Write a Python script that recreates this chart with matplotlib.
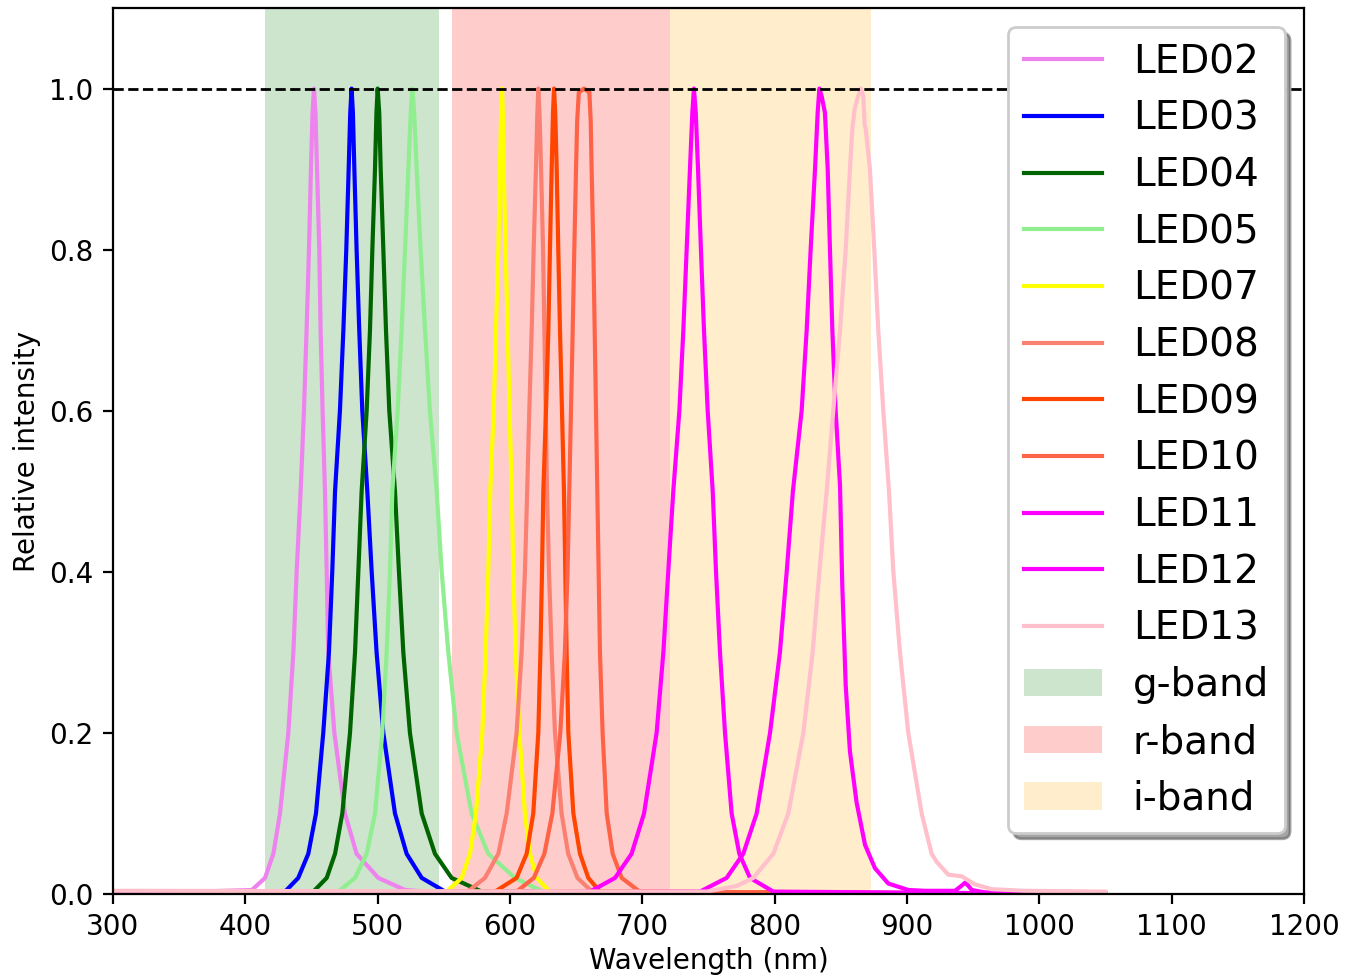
import matplotlib
matplotlib.use("Agg")
import matplotlib.pyplot as plt

# ---------------- data ----------------
LED02_wl = [300, 405, 414.9, 421.2, 426.2, 432.5, 436.3, 438.8, 441.8, 444.3, 446.3, 448.1, 449.6, 450.8, 451.9,
            453.0, 454.2, 455.9, 456.9, 458.4, 460.2, 461.5, 462.7, 467.3, 475.3, 484.1, 500.5, 520.7, 560, 1050]
LED02_int = [0, 0.005, 0.02, 0.05, 0.1, 0.2, 0.3, 0.4, 0.5, 0.6, 0.7, 0.8, 0.9, 0.97, 1.0,
             0.97, 0.9, 0.8, 0.7, 0.6, 0.5, 0.4, 0.3, 0.2, 0.1, 0.05, 0.02, 0.005, 0, 0]

LED03_wl = [300, 430, 440.0, 447.6, 453.4, 458.9, 463.2, 465.7, 467.8, 471.5, 474.1, 476.3, 478.1, 479.3, 480.3,
            481.3, 482.4, 484.1, 486.1, 488.4, 492.2, 495.5, 499.2, 504.3, 513.1, 521.9, 533.3, 551, 1050]
LED04_wl = [300, 451.4, 461.5, 467.8, 473.3, 479.1, 482.9, 485.4, 487.9, 491.7, 494.2, 496.0, 498.0, 499.1, 500.0,
            501.2, 502.3, 504.3, 506.3, 508.8, 513.1, 516.1, 519.4, 524.4, 533.3, 543.3, 555.9, 578.6, 1050]
LED05_wl = [300, 470.3, 482.9, 491.7, 498.0, 503.5, 506.8, 509.3, 511.1, 515.1, 518.1, 520.7, 523.2, 525.0, 526.2,
            527.6, 529.5, 532.5, 535.8, 539.5, 544.6, 548.4, 553.4, 559.7, 571.0, 583.6, 603.8, 625, 1050]
LED07_wl = [300, 552.1, 563.5, 569.8, 574.3, 579.1, 581.6, 583.6, 585.1, 587.7, 589.4, 591.2, 592.4, 593.3, 594.0,
            594.6, 595.2, 596.7, 598.2, 599.7, 601.3, 602.5, 604.3, 607.1, 611.3, 615.1, 620.2, 630, 1050]
LED08_wl = [300, 568, 581.1, 591.2, 597.5, 605.0, 608.8, 611.3, 613.0, 614.6, 616.4, 617.9, 619.6, 620.7, 621.4,
            622.3, 623.5, 625.0, 626.0, 627.0, 628.0, 629.5, 631.5, 634.0, 639.0, 644.0, 651.0, 662, 1050]
LED09_wl = [300, 588.7, 605.0, 612.6, 617.6, 621.4, 623.0, 624.2, 625.2, 627.2, 629.0, 630.2, 631.5, 632.5, 633.3,
            634.2, 635.3, 636.5, 637.8, 639.3, 640.8, 641.8, 642.8, 644.1, 647.9, 652.9, 659.2, 668, 1050]
LED11_wl = [300, 660.5, 679.4, 691.9, 701.3, 710.8, 715.9, 719.6, 723.4, 728.0, 731.0, 733.5, 736.0, 737.8, 739.0,
            740.4, 742.1, 744.3, 746.6, 749.4, 753.2, 755.7, 758.7, 762.5, 767.5, 773.3, 781.4, 799, 1050]
# common intensity levels for the sampled curves above
LEVELS_int = [0, 0.003, 0.02, 0.05, 0.1, 0.2, 0.3, 0.4, 0.5, 0.6, 0.7, 0.8, 0.9, 0.97, 1.0,
              0.97, 0.9, 0.8, 0.7, 0.6, 0.5, 0.4, 0.3, 0.2, 0.1, 0.05, 0.02, 0.003, 0]

LED10_wl = [300, 605, 618.0, 626.0, 632.0, 638.0, 641.5, 643.5, 644.8, 646.1, 647.4, 648.6, 649.9, 650.8, 652.0,
            656.0, 660.0, 661.0, 661.7, 663.0, 664.0, 665.0, 666.0, 667.0, 668.0, 670.0, 673.1, 677.6, 684.4, 698, 1050]
LED10_int = [0, 0.003, 0.02, 0.05, 0.1, 0.2, 0.3, 0.4, 0.5, 0.6, 0.7, 0.8, 0.9, 0.96, 0.995,
             1.0, 0.995, 0.96, 0.9, 0.8, 0.7, 0.6, 0.5, 0.4, 0.3, 0.2, 0.1, 0.05, 0.02, 0.003, 0]

LED12_wl = [300, 743.6, 763.7, 776.3, 786.4, 796.5, 804.0, 809.1, 813.8, 820.4, 824.2, 827.2, 830.5, 832.5, 833.8,
            835.6, 838.0, 840.1, 841.8, 843.6, 846.1, 849.4, 851.1, 853.7, 856.9, 861.9, 868.3, 875.8, 885.9,
            901.0, 913.6, 936.3, 941.0, 943.8, 946.5, 949.0, 959.0, 1050]
LED12_int = [0, 0.003, 0.02, 0.05, 0.1, 0.2, 0.3, 0.4, 0.5, 0.6, 0.7, 0.8, 0.9, 0.97, 1.0,
             0.99, 0.97, 0.9, 0.8, 0.7, 0.6, 0.507, 0.384, 0.259, 0.177, 0.114, 0.061, 0.032, 0.013,
             0.005, 0.004, 0.004, 0.01, 0.014, 0.01, 0.005, 0.002, 0]

LED13_wl = [300, 740, 748.6, 771.3, 783.9, 799.0, 810.3, 821.7, 828.7, 833.8, 839.3, 844.3, 849.4, 853.7, 856.9,
            858.7, 860.5, 863.0, 865.2, 867.0, 868.0, 868.8, 872.0, 875.3, 878.3, 882.1, 886.4, 889.7, 894.7,
            901.0, 911.1, 918.6, 922.4, 931.2, 941.3, 951.4, 964, 989, 1050]
LED13_int = [0.004, 0.003, 0.003, 0.01, 0.02, 0.05, 0.1, 0.2, 0.3, 0.4, 0.5, 0.6, 0.7, 0.8, 0.9,
             0.95, 0.975, 0.99, 1.0, 0.99, 0.955, 0.95, 0.9, 0.8, 0.7, 0.6, 0.5, 0.4, 0.3,
             0.2, 0.1, 0.05, 0.04, 0.024, 0.022, 0.012, 0.006, 0.004, 0.003]

led_names = ["LED02", "LED03", "LED04", "LED05", "LED07", "LED08", "LED09", "LED10", "LED11", "LED12", "LED13"]
led_colors = ["violet", "blue", "darkgreen", "lightgreen", "yellow", "salmon", "orangered", "tomato",
              "magenta", "magenta", "pink"]
led_data = [
    (LED02_wl, LED02_int), (LED03_wl, LEVELS_int), (LED04_wl, LEVELS_int), (LED05_wl, LEVELS_int),
    (LED07_wl, LEVELS_int), (LED08_wl, LEVELS_int), (LED09_wl, LEVELS_int), (LED10_wl, LED10_int),
    (LED11_wl, LEVELS_int), (LED12_wl, LED12_int), (LED13_wl, LED13_int),
]

band_names = ["g-band", "r-band", "i-band"]
band_lo = [415, 556, 721]
band_hi = [546, 721, 873]
band_colors = ["green", "red", "orange"]

# ---------------- figure ----------------
fig = plt.figure(figsize=(6.725, 4.88), dpi=200)
ax = fig.add_axes([0.084, 0.084, 0.8855, 0.9078])

for name, col, (wl, it) in zip(led_names, led_colors, led_data):
    ax.plot(wl, it, color=col, lw=1.5, label=name)

for name, lo, hi, col in zip(band_names, band_lo, band_hi, band_colors):
    ax.axvspan(lo, hi, color=col, alpha=0.2, lw=0, label=name)

ax.axhline(1.0, color="k", ls="--", lw=1)

ax.set_xlim(300, 1200)
ax.set_ylim(0, 1.1)
ax.set_xticks(range(300, 1201, 100))
ax.set_yticks([0.0, 0.2, 0.4, 0.6, 0.8, 1.0])
ax.set_xlabel("Wavelength (nm)", fontsize=10, labelpad=2)
ax.set_ylabel("Relative intensity", fontsize=10, labelpad=3)
ax.tick_params(labelsize=10)

ax.legend(loc="upper right", fontsize=14, labelspacing=0.48, shadow=True, framealpha=1)

fig.savefig("out.png", dpi=200)
